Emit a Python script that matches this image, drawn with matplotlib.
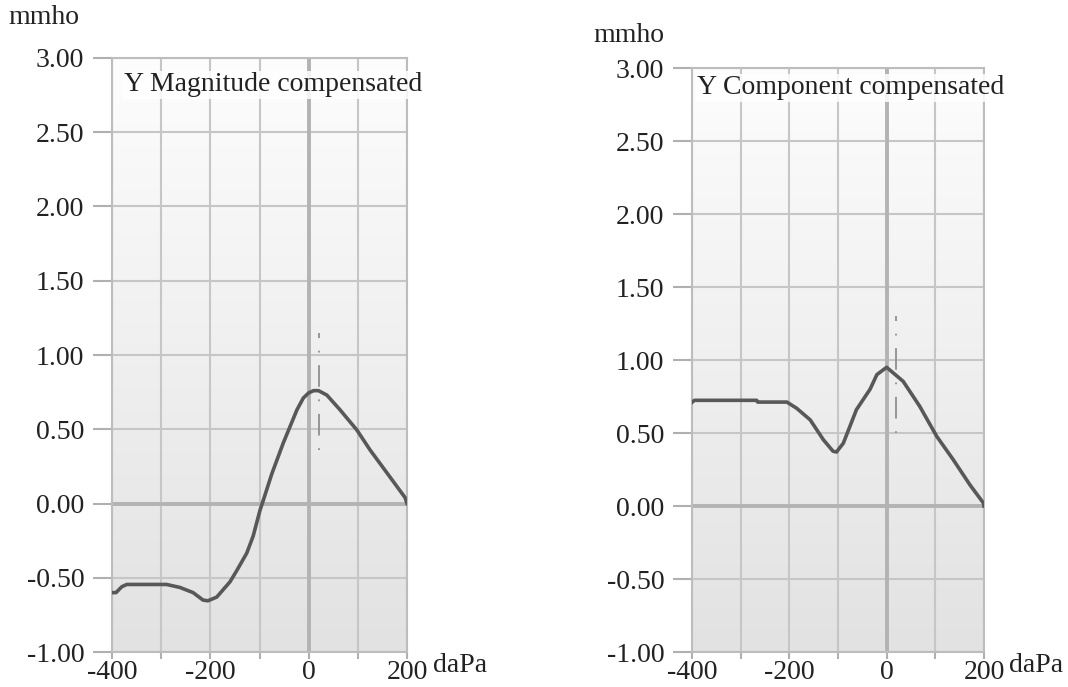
import numpy as np
import matplotlib
matplotlib.use('Agg')
import matplotlib.pyplot as plt
from matplotlib.colors import LinearSegmentedColormap

plt.rcParams['font.family'] = ['Liberation Serif', 'DejaVu Serif']

# Y Magnitude compensated (daPa, mmho)
mag_x = [-400, -392, -380, -370, -340, -300, -289, -262, -235, -215, -205, -187,
         -160, -146, -126, -113, -99, -92, -75, -52, -24, -11, 0, 10, 20, 37,
         64, 98, 125, 165, 196, 200]
mag_y = [-0.60, -0.60, -0.56, -0.545, -0.545, -0.545, -0.545, -0.565, -0.60, -0.65,
         -0.655, -0.63, -0.527, -0.45, -0.334, -0.22, -0.045, 0.025, 0.20, 0.405,
         0.63, 0.71, 0.745, 0.76, 0.76, 0.73, 0.63, 0.495, 0.36, 0.18, 0.04, 0.0]

# Y Component compensated
comp_x = [-400, -395, -384, -330, -267, -265, -205, -185, -157, -130, -110, -103,
          -89, -62, -34, -20, 0, 34, 68, 103, 137, 171, 199, 200]
comp_y = [0.71, 0.724, 0.724, 0.724, 0.724, 0.712, 0.712, 0.67, 0.59, 0.454, 0.375,
          0.37, 0.43, 0.66, 0.80, 0.90, 0.95, 0.854, 0.683, 0.477, 0.317, 0.146,
          0.02, 0.0]

# peak pressure markers (x, y_low, y_high)
mag_peak = (20, 0.36, 1.15)
comp_peak = (20, 0.50, 1.30)

titles = ['Y Magnitude compensated', 'Y Component compensated']
y_ticks = [-1.0, -0.5, 0.0, 0.5, 1.0, 1.5, 2.0, 2.5, 3.0]
x_ticks = [-400, -300, -200, -100, 0, 100, 200]
x_labels = ['-400', '', '-200', '', '0', '', '200']

FS = 20
grid_c = '#c6c6c6'
line_c = '#585858'
txt_c = '#222222'
grad = LinearSegmentedColormap.from_list('bg', ['#e2e2e2', '#fdfdfd'])


def draw_panel(ax, x, y, peak, title, title_pos):
    g = np.linspace(0, 1, 256).reshape(-1, 1)
    ax.imshow(g, cmap=grad, origin='lower', aspect='auto',
              extent=[-400, 200, -1, 3], zorder=0)
    ax.set_xlim(-400, 200)
    ax.set_ylim(-1, 3)
    for v in x_ticks:
        ax.axvline(v, color=grid_c, lw=1.5, zorder=1)
    for v in y_ticks:
        ax.axhline(v, color=grid_c, lw=1.5, zorder=1)
    ax.axvline(0, color='#b3b3b3', lw=2.8, zorder=1)
    ax.axhline(0, color='#b3b3b3', lw=2.8, zorder=1)
    ax.plot([peak[0], peak[0]], [peak[1], peak[2]], color='#8f8f8f', lw=1.3,
            dashes=[1, 7, 12, 7], zorder=2)
    ax.plot(x, y, color=line_c, lw=2.6, zorder=3)
    ax.text(title_pos[0], title_pos[1], title, transform=ax.transAxes,
            fontsize=FS, color=txt_c, va='center', ha='left', zorder=4,
            bbox=dict(facecolor='white', edgecolor='none', alpha=0.85, pad=1))
    ax.set_yticks(y_ticks)
    ax.set_yticklabels(['%.2f' % v for v in y_ticks])
    ax.set_xticks(x_ticks)
    ax.set_xticklabels(x_labels)
    ax.tick_params(axis='y', length=14, width=1.5, color='#b0b0b0', pad=6,
                   labelsize=FS, labelcolor=txt_c)
    ax.tick_params(axis='x', length=5, width=1.5, color='#b0b0b0', pad=1,
                   labelsize=FS, labelcolor=txt_c)
    for s in ax.spines.values():
        s.set_color('#bdbdbd')
        s.set_linewidth(1.5)


fig = plt.figure(figsize=(10.68, 6.87), dpi=100)
ax1 = fig.add_axes([0.1049, 0.0509, 0.2762, 0.8647])
ax2 = fig.add_axes([0.6479, 0.0509, 0.2734, 0.8501])

draw_panel(ax1, mag_x, mag_y, mag_peak, titles[0], (0.04, 0.955))
draw_panel(ax2, comp_x, comp_y, comp_peak, titles[1], (0.018, 0.966))

fig.text(8 / 1068, 1 - 18 / 687, 'mmho', fontsize=FS, va='center', color=txt_c)
fig.text(593 / 1068, 1 - 35 / 687, 'mmho', fontsize=FS, va='center', color=txt_c)
fig.text(433 / 1068, 1 - 666 / 687, 'daPa', fontsize=FS, va='center', color=txt_c)
fig.text(1009 / 1068, 1 - 666 / 687, 'daPa', fontsize=FS, va='center', color=txt_c)

fig.savefig('out.png', dpi=100)
